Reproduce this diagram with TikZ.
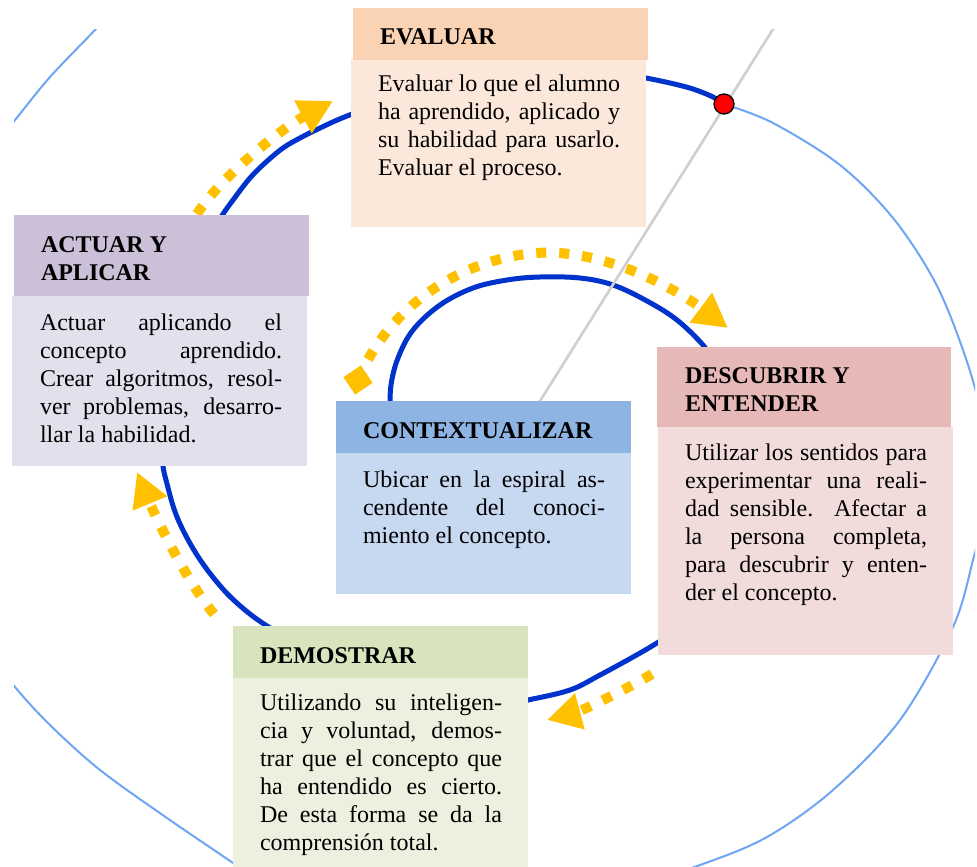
\documentclass[tikz,border=0pt]{standalone}
\usepackage{fontspec}
\setmainfont{Liberation Serif}
\usetikzlibrary{arrows.meta}

\definecolor{evH}{RGB}{250,211,180}
\definecolor{evB}{RGB}{252,232,218}
\definecolor{acH}{RGB}{203,192,215}
\definecolor{acB}{RGB}{228,223,236}
\definecolor{coH}{RGB}{142,180,227}
\definecolor{coB}{RGB}{198,217,241}
\definecolor{deH}{RGB}{230,184,183}
\definecolor{deB}{RGB}{242,220,219}
\definecolor{dmH}{RGB}{215,228,189}
\definecolor{dmB}{RGB}{235,241,222}
\definecolor{spiralDark}{RGB}{0,51,204}
\definecolor{spiralLight}{RGB}{110,165,245}
\definecolor{gold}{RGB}{255,192,0}
\definecolor{guide}{RGB}{208,208,208}

\newcommand\jline[1]{\hbox to 242pt{#1}}
\newcommand\rline[1]{\hbox to 242pt{#1\hfil}}
\newcommand\textblock[1]{\vtop{\baselineskip=28pt #1}}

\tikzset{
  box/.style={anchor=north west, inner sep=0pt, outer sep=0pt, draw=none},
  txt/.style={anchor=base west, inner sep=0pt, outer sep=0pt, font=\fontsize{24}{28}\selectfont},
  ttl/.style={anchor=base west, inner sep=0pt, outer sep=0pt, font=\fontsize{24}{28}\selectfont\bfseries},
  dark/.style={draw=spiralDark, line width=5pt},
  light/.style={draw=spiralLight, line width=2pt},
  garrow/.style={draw=gold, line width=10pt, dash pattern=on 10pt off 13pt,
    -{Triangle[length=34pt,width=35pt]}},
}

\begin{document}
\begin{tikzpicture}[x=1pt,y=-1pt]
\useasboundingbox (0,0) rectangle (977,867);
\fill[white] (0,0) rectangle (977,867);

\begin{scope}
\clip (14,30) rectangle (975,867);
% ---- spiral: dark inner part (visible pieces, ends tucked under boxes)
\draw[dark] plot[smooth, tension=0.6] coordinates {(390,410) (391,385) (398,358) (413,330) (440,305) (473,288) (507,280) (540,277) (580,278) (613,285) (647,301) (677,320) (703,345) (712,360)};
\draw[dark] plot[smooth, tension=0.6] coordinates {(690,622) (657,643) (633,657) (600,675) (570,690) (528,700) (512,703)};
\draw[dark] plot[smooth, tension=0.6] coordinates {(297,644) (267,626) (245,610) (222,588) (197,555) (177,517) (166,480) (163,466) (161,450)};
\draw[dark] plot[smooth, tension=0.6] coordinates {(212,232) (223,214) (236,196) (250,178) (265,163) (283,148) (300,138) (318,129) (335,121) (352,114) (365,109)};
\draw[dark] plot[smooth, tension=0.6] coordinates {(620,73) (646,78) (670,83) (693,89) (713,97) (724,104)};

% ---- spiral: light outer part
\draw[light] plot[smooth, tension=0.55] coordinates {(724,104) (773,123) (840,165) (893,218) (935,282) (963,350) (980,410) (985,470) (981,525) (973,560) (953,627) (900,720) (833,790) (767,837) (700,865) (620,890)};
\draw[light] plot[smooth, tension=0.55] coordinates {(262,884) (233,863) (167,818) (100,770) (50,725) (15,687) (-10,652)};
\draw[light] plot[smooth, tension=0.55] coordinates {(-10,150) (15,120) (50,77) (94,31) (110,12)};

% ---- gray guide line
\coordinate (g1) at (785,10);
\coordinate (g2) at (525,425);
\draw[guide, line width=2.4pt] (g1) -- (g2);
\end{scope}

% ---- golden dotted arrows
\coordinate (a1s) at (358,380);
\coordinate (a1e) at (728,328);
\coordinate (a2s) at (652,674);
\coordinate (a2e) at (547,720);
\coordinate (a3s) at (214,614);
\coordinate (a3e) at (137,472);
\coordinate (a4s) at (197,214);
\coordinate (a4e) at (333,101);
\draw[garrow] (a1s) .. controls (387,311) and (452,264) .. (526,254) .. controls (601,244) and (680,292) .. (a1e);
\node[fill=gold, minimum size=21pt, inner sep=0pt, rotate=34] (a1tail) at (a1s) {};
\draw[garrow] (a2s) .. controls (631,687) and (581,711) .. (a2e);
\draw[garrow] (a3s) .. controls (187,582) and (156,518) .. (a3e);
\draw[garrow] (a4s) .. controls (222,175) and (284,127) .. (a4e);

% gray line crosses over the dots of the upper arrow
\begin{scope}
\clip (14,30) rectangle (975,867);
\draw[guide, line width=2.4pt] (g1) -- (g2);
\end{scope}

% ---- red point
\node[circle, fill=red, draw=black, line width=1.3pt, minimum size=20pt, inner sep=0pt] (dot) at (724,104) {};

% ---- EVALUAR
\node[box, fill=evB, minimum width=295pt, minimum height=169pt] (evalB) at (351,58) {};
\node[box, fill=evH, minimum width=295pt, minimum height=52pt] (evalH) at (353,8) {};
\node[ttl] (evalT) at (380,45) {EVALUAR};
\node[txt] (evalX) at (378,92) {\textblock{%
\jline{Evaluar lo que el alumno}%
\jline{ha aprendido, aplicado y}%
\jline{su habilidad para usarlo.}%
\rline{Evaluar el proceso.}}};

% ---- ACTUAR Y APLICAR
\node[box, fill=acB, minimum width=295pt, minimum height=170pt] (actB) at (12,296) {};
\node[box, fill=acH, minimum width=295pt, minimum height=81pt] (actH) at (14,215) {};
\node[ttl] (actT) at (41,252) {\textblock{\hbox{ACTUAR Y}\hbox{APLICAR}}};
\node[txt] (actX) at (40,330) {\textblock{%
\jline{Actuar aplicando el}%
\jline{concepto aprendido.}%
\jline{Crear algoritmos, resol-}%
\jline{ver problemas, desarro-}%
\rline{llar la habilidad.}}};

% ---- CONTEXTUALIZAR
\node[box, fill=coB, minimum width=295pt, minimum height=141pt] (conB) at (336,453) {};
\node[box, fill=coH, minimum width=295pt, minimum height=52pt] (conH) at (336,401) {};
\node[ttl] (conT) at (363,438) {CONTEXTUALIZAR};
\node[txt] (conX) at (363,487) {\textblock{%
\jline{Ubicar en la espiral as-}%
\jline{cendente del conoci-}%
\rline{miento el concepto.}}};

% ---- DESCUBRIR Y ENTENDER
\node[box, fill=deB, minimum width=295pt, minimum height=228pt] (desB) at (658,427) {};
\node[box, fill=deH, minimum width=294pt, minimum height=80pt] (desH) at (657,347) {};
\node[ttl] (desT) at (685,383) {\textblock{\hbox{DESCUBRIR Y}\hbox{ENTENDER}}};
\node[txt] (desX) at (685,460) {\textblock{%
\jline{Utilizar los sentidos para}%
\jline{experimentar una reali-}%
\jline{dad sensible. Afectar a}%
\jline{la persona completa,}%
\jline{para descubrir y enten-}%
\rline{der el concepto.}}};

% ---- DEMOSTRAR
\node[box, fill=dmB, minimum width=295pt, minimum height=195pt] (demB) at (233,678) {};
\node[box, fill=dmH, minimum width=295pt, minimum height=52pt] (demH) at (233,626) {};
\node[ttl] (demT) at (260,663) {DEMOSTRAR};
\node[txt] (demX) at (260,710) {\textblock{%
\jline{Utilizando su inteligen-}%
\jline{cia y voluntad, demos-}%
\jline{trar que el concepto que}%
\jline{ha entendido es cierto.}%
\jline{De esta forma se da la}%
\rline{comprensión total.}}};
\end{tikzpicture}
\end{document}
